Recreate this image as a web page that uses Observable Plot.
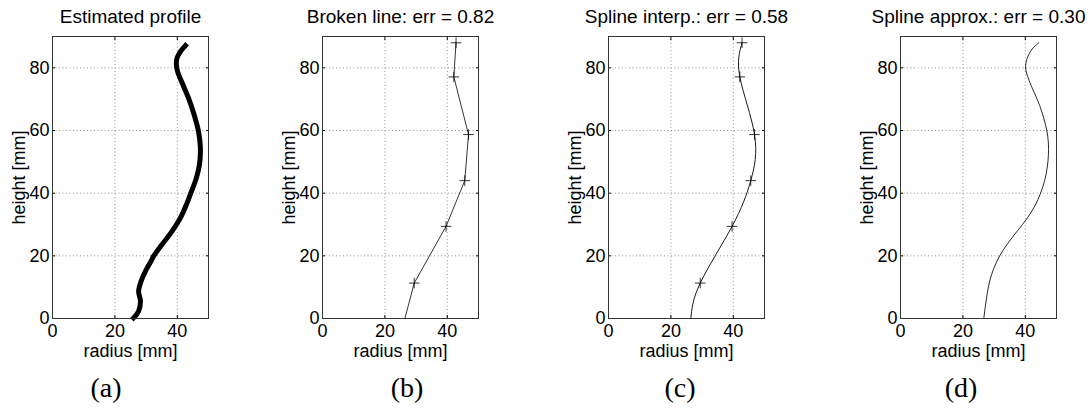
<!DOCTYPE html>
<html><head><meta charset="utf-8">
<script src="https://cdn.jsdelivr.net/npm/d3@7"></script>
<script src="https://cdn.jsdelivr.net/npm/@observablehq/plot@0.6"></script>
<style>
body{margin:0;background:#fff;}
#fig{position:relative;width:1092px;height:409px;overflow:hidden;font-family:"Liberation Sans",Arial,sans-serif;}
.panel{position:absolute;top:0;}
.cap{position:absolute;top:374px;width:100px;text-align:center;font-family:"Liberation Serif","Times New Roman",serif;font-size:28px;line-height:28px;color:#000;}
</style></head><body><div id="fig"></div>
<script>
const titles = ["Estimated profile", "Broken line: err = 0.82", "Spline interp.: err = 0.58", "Spline approx.: err = 0.30"];
const captions = ["(a)", "(b)", "(c)", "(d)"];
const xTicks = [0, 20, 40];
const yTicks = [0, 20, 40, 60, 80];

// (a) estimated profile
const profileHeight = [0.2, 2.3, 5.5, 8.7, 11.9, 15.1, 18.3, 19.9, 23.6, 27.8, 32.1, 36.3, 39.7, 44.8, 49.1, 54.4, 59.7, 65.0, 70.3, 74.6, 78.8, 81.0, 83.1, 85.2, 87.1];
const profileRadius = [26.0, 27.6, 28.2, 27.6, 28.4, 29.8, 31.6, 32.4, 35.1, 38.3, 41.0, 42.9, 44.2, 46.1, 47.1, 47.4, 46.8, 45.4, 43.6, 41.8, 40.1, 39.7, 39.9, 41.0, 42.6];

// (b),(c) knots
const knotHeight = [0, 11.3, 29.4, 44.0, 58.7, 77.1, 88.0];
const knotRadius = [26.4, 29.4, 39.6, 45.6, 46.8, 42.1, 42.8];
const knotMarked = [false, true, true, true, true, true, true];

// (d) spline approximation
const approxHeight = [0, 4, 8, 12, 16, 20, 24, 28, 32, 36, 40, 44, 48, 52, 56, 60, 64, 68, 72, 76, 80, 83, 86, 88];
const approxRadius = [26.7, 27.2, 27.8, 28.6, 29.9, 31.8, 34.4, 37.5, 40.6, 43.1, 44.9, 46.2, 47.0, 47.4, 47.4, 46.9, 45.9, 44.6, 42.9, 41.2, 40.1, 40.6, 42.2, 44.3];

const profile = profileHeight.map((h, i) => ({h, r: profileRadius[i]}));
const knots = knotHeight.map((h, i) => ({h, r: knotRadius[i], m: knotMarked[i]}));
const approx = approxHeight.map((h, i) => ({h, r: approxRadius[i]}));

const panelLefts = [0, 270, 556, 848];
const captionCenters = [106, 407, 680, 961];

function panel(title, marks) {
  return Plot.plot({
    width: 236, height: 360,
    marginLeft: 52, marginRight: 28, marginTop: 36, marginBottom: 42,
    style: {fontFamily: "'Liberation Sans', Arial, sans-serif", fontSize: "18px", background: "transparent", color: "#000", overflow: "visible"},
    x: {domain: [0, 50]},
    y: {domain: [0, 90]},
    marks: [
      Plot.gridX(xTicks, {stroke: "#777", strokeOpacity: 1, strokeWidth: 0.8, strokeDasharray: "1,2.5"}),
      Plot.gridY(yTicks, {stroke: "#777", strokeOpacity: 1, strokeWidth: 0.8, strokeDasharray: "1,2.5"}),
      Plot.axisX(xTicks, {anchor: "bottom", tickSize: -3, tickPadding: 9, fontSize: 18, label: null}),
      Plot.axisX({anchor: "bottom", ticks: [], tickSize: 0, label: "radius [mm]", labelArrow: "none", labelAnchor: "center", labelOffset: 38, fontSize: 18}),
      Plot.axisX(xTicks, {anchor: "top", tickSize: -3, tickFormat: () => "", label: null}),
      Plot.axisY(yTicks, {anchor: "left", tickSize: -3, tickPadding: 6, label: "height [mm]", labelArrow: "none", labelAnchor: "center", labelOffset: 40, fontSize: 18}),
      Plot.axisY(yTicks, {anchor: "right", tickSize: -3, tickFormat: () => "", label: null}),
      ...marks,
      Plot.frame({stroke: "#333", strokeWidth: 1}),
      Plot.text([title], {text: d => d, frameAnchor: "top", lineAnchor: "bottom", dy: -14, fontSize: 19})
    ]
  });
}

const panels = [
  panel(titles[0], [
    Plot.line(profile, {x: "r", y: "h", curve: "catmull-rom", stroke: "#000", strokeWidth: 5, strokeLinejoin: "round", strokeLinecap: "square"})
  ]),
  panel(titles[1], [
    Plot.line(knots, {x: "r", y: "h", stroke: "#000", strokeWidth: 0.8}),
    Plot.dot(knots.filter(d => d.m), {x: "r", y: "h", symbol: "plus", r: 3.5, stroke: "#000", strokeWidth: 0.8})
  ]),
  panel(titles[2], [
    Plot.line(knots, {x: "r", y: "h", curve: "natural", stroke: "#000", strokeWidth: 0.9}),
    Plot.dot(knots.filter(d => d.m), {x: "r", y: "h", symbol: "plus", r: 3.5, stroke: "#000", strokeWidth: 0.8})
  ]),
  panel(titles[3], [
    Plot.line(approx, {x: "r", y: "h", curve: "catmull-rom", stroke: "#111", strokeWidth: 0.9})
  ])
];

const fig = document.getElementById("fig");
panels.forEach((p, i) => {
  p.classList.add("panel");
  p.style.left = panelLefts[i] + "px";
  p.style.position = "absolute";
  fig.appendChild(p);
  const c = document.createElement("div");
  c.className = "cap";
  c.style.left = (captionCenters[i] - 50) + "px";
  c.textContent = captions[i];
  fig.appendChild(c);
});
</script></body></html>
